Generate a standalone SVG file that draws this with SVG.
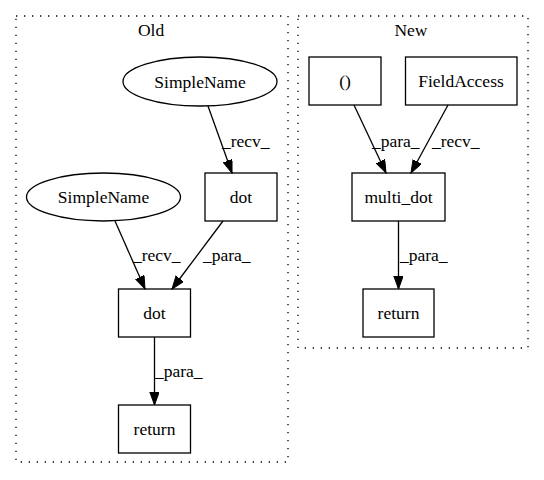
<svg xmlns="http://www.w3.org/2000/svg" width="544" height="480" viewBox="0 0 544 480">
<style>
text{font-family:"Liberation Serif","Times New Roman",serif;font-size:17.5px;fill:#000}
.n{fill:none;stroke:#000;stroke-width:1.3}
.c{fill:none;stroke:#000;stroke-width:1.3;stroke-dasharray:1.3,6.7}
.e{fill:none;stroke:#000;stroke-width:1.3}
.m{text-anchor:middle}
</style>
<defs>
<marker id="ah" markerUnits="userSpaceOnUse" markerWidth="14" markerHeight="12" refX="13" refY="4.7" orient="auto">
<polygon points="0,0 13,4.7 0,9.4" fill="#000" stroke="#000" stroke-width="1"/>
</marker>
</defs>
<rect width="544" height="480" fill="#fff"/>
<g id="cluster_old">
<rect class="c" x="16" y="16" width="272" height="446"/>
<text class="m" x="151" y="36">Old</text>
</g>
<g id="cluster_new">
<rect class="c" x="298" y="16" width="230" height="332"/>
<text class="m" x="411" y="36">New</text>
</g>
<g id="old_simplename1">
<ellipse class="n" cx="200" cy="81.5" rx="77" ry="24.5"/>
<text class="m" x="200" y="87.5">SimpleName</text>
</g>
<g id="old_simplename2">
<ellipse class="n" cx="103.5" cy="197" rx="77" ry="24"/>
<text class="m" x="103.5" y="203">SimpleName</text>
</g>
<g id="old_dot1">
<rect class="n" x="205" y="173" width="72" height="48"/>
<text class="m" x="241" y="203">dot</text>
</g>
<g id="old_dot2">
<rect class="n" x="118.5" y="289" width="72" height="48"/>
<text class="m" x="154.5" y="319">dot</text>
</g>
<g id="old_return">
<rect class="n" x="118.5" y="405" width="72" height="48"/>
<text class="m" x="154.5" y="435">return</text>
</g>
<g id="new_paren">
<rect class="n" x="309" y="57" width="72" height="48"/>
<text class="m" x="345" y="87">()</text>
</g>
<g id="new_fieldaccess">
<rect class="n" x="405.5" y="57" width="111.5" height="48"/>
<text class="m" x="461" y="87">FieldAccess</text>
</g>
<g id="new_multidot">
<rect class="n" x="352" y="173" width="93" height="48"/>
<text class="m" x="398.5" y="203">multi_dot</text>
</g>
<g id="new_return">
<rect class="n" x="363" y="289" width="71" height="48"/>
<text class="m" x="398.5" y="319">return</text>
</g>
<g id="connectors">
<path class="e" d="M208,106 L232,173" marker-end="url(#ah)"/>
<text x="222" y="147">_recv_</text>
<path class="e" d="M115,221 L145,289" marker-end="url(#ah)"/>
<text x="133" y="261">_recv_</text>
<path class="e" d="M223,221 L172,289" marker-end="url(#ah)"/>
<text x="203" y="261">_para_</text>
<path class="e" d="M154.5,337 L154.5,405" marker-end="url(#ah)"/>
<text x="155" y="377">_para_</text>
<path class="e" d="M354,105 L386,173" marker-end="url(#ah)"/>
<text x="372" y="147">_para_</text>
<path class="e" d="M448,105 L411,173" marker-end="url(#ah)"/>
<text x="432" y="147">_recv_</text>
<path class="e" d="M398.5,221 L398.5,289" marker-end="url(#ah)"/>
<text x="400" y="261">_para_</text>
</g>
</svg>
